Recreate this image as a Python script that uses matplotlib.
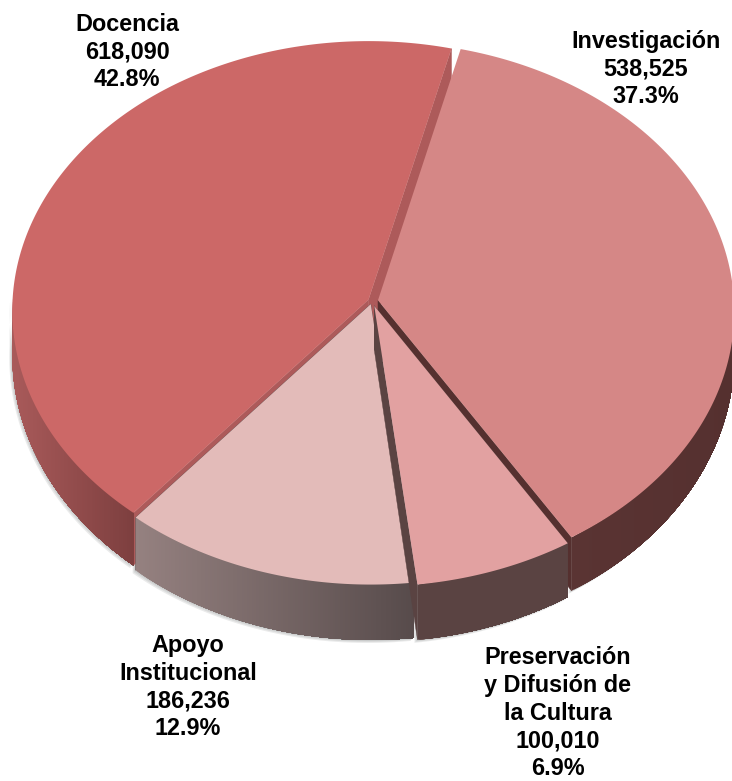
import numpy as np
import matplotlib
matplotlib.use("Agg")
import matplotlib.pyplot as plt
from matplotlib.colors import to_rgb

categories = ["Investigación", "Preservación\ny Difusión de\nla Cultura", "Apoyo\nInstitucional", "Docencia"]
values = [538525, 100010, 186236, 618090]
explode = [0.017, 0.019, 0.012, 0.011]
top_colors = ["#D58786", "#E2A1A1", "#E3BBB9", "#CC6867"]
side_from = ["#5A3433", "#5A4342", "#958180", "#A95A5A"]
side_to = ["#55302F", "#5A4342", "#574B4B", "#7D3F3F"]
wall_first = ["#55302F", "#5A4342", "#5A4A4A", "#AD5A5A"]   # wall at slice start angle
wall_last = ["#55302F", "#5A4342", "#5A4A4A", "#AD5A5A"]    # wall at slice end angle
label_xy = [(646, 69), (558, 713), (188, 687), (127, 52)]
draw_order = [3, 0, 2, 1]

START = 14.0
CX, CY, RX, RY, K = 372.0, 301.0, 356.0, 269.0, 0.04
DEPTH, DEPTH_K = 43.5, 0.27


def project(u, v, drop=0.0):
    w = 1.0 - K * v
    x = CX + RX * u / w
    y = CY + RY * v / w + drop * DEPTH * (1.0 + DEPTH_K * v)
    return x, y


def disc(theta, r=1.0):
    t = np.radians(theta)
    return r * np.sin(t), -r * np.cos(t)


fig = plt.figure(figsize=(7.32, 7.81), dpi=100)
ax = fig.add_axes([0, 0, 1, 1])
ax.set_xlim(0, 732)
ax.set_ylim(781, 0)
ax.axis("off")

total = sum(values)
edges = START + np.concatenate([[0], np.cumsum(values)]) / total * 360.0
slices = []
for i in range(len(values)):
    a0, a1 = edges[i], edges[i + 1]
    du, dv = disc((a0 + a1) / 2, explode[i])
    slices.append((a0, a1, du, dv))


def outer(i, thetas, drop=0.0):
    a0, a1, du, dv = slices[i]
    u, v = disc(thetas)
    return project(u + du, v + dv, drop)


# soft shadow beneath the visible rim
for i in draw_order:
    a0, a1, du, dv = slices[i]
    lo, hi = max(a0, 90), min(a1, 270)
    if hi <= lo:
        continue
    th = np.linspace(lo, hi, 120)
    x0, y0 = outer(i, th)
    x1, y1 = outer(i, th, 1.0)
    for off in (1.0, 2.0, 3.0):
        ax.fill(np.r_[x0, x1[::-1]] - off, np.r_[y0, y1[::-1]] + off,
                color="#6E7272", alpha=0.14, lw=0, zorder=1)

z = 2
for i in draw_order:
    a0, a1, du, dv = slices[i]
    # cut walls
    for ang, col in ((a0, wall_first[i]), (a1, wall_last[i])):
        t = (ang % 360)
        if (i == 3 and 10 < t < 20) or 100 < t < 260:
            ux, vy = disc(ang)
            ax_, ay_ = project(du, dv)
            bx_, by_ = project(du, dv, 1.0)
            ex_, ey_ = project(du + ux, dv + vy)
            fx_, fy_ = project(du + ux, dv + vy, 1.0)
            ax.fill([ax_, ex_, fx_, bx_], [ay_, ey_, fy_, by_], color=col, lw=0.3, zorder=z)
            z += 1
    # rim with a colour gradient; each band runs to the rim's end, so no seams show
    lo, hi = max(a0, 90), min(a1, 270)
    if hi > lo:
        th = np.linspace(lo, hi, 120)
        c0, c1 = np.array(to_rgb(side_from[i])), np.array(to_rgb(side_to[i]))
        x0, y0 = outer(i, th)
        x1, y1 = outer(i, th, 1.0)
        span = x0.max() - x0.min()
        order = np.argsort(x0)   # left to right
        xs0, ys0, xs1, ys1 = x0[order], y0[order], x1[order], y1[order]
        for j in range(len(th) - 1):
            f = (xs0[j] - xs0[0]) / span
            ax.fill(np.r_[xs0[j:], xs1[j:][::-1]], np.r_[ys0[j:], ys1[j:][::-1]],
                    color=c0 + (c1 - c0) * f, lw=0, zorder=z)
            z += 0.001
        z = np.ceil(z)
    # top face
    th = np.linspace(a0, a1, 200)
    x, y = outer(i, th)
    px, py = project(du, dv)
    ax.fill(np.r_[px, x], np.r_[py, y], color=top_colors[i], lw=0, zorder=z)
    z += 1

for name, val, (tx, ty) in zip(categories, values, label_xy):
    ax.text(tx, ty, f"{name}\n{val:,}\n{val / total * 100:.1f}%",
            ha="center", va="center", fontsize=16.8, fontweight="bold",
            family="Liberation Sans", color="black", linespacing=1.26, zorder=z + 1)

fig.savefig("out.png", dpi=100)
